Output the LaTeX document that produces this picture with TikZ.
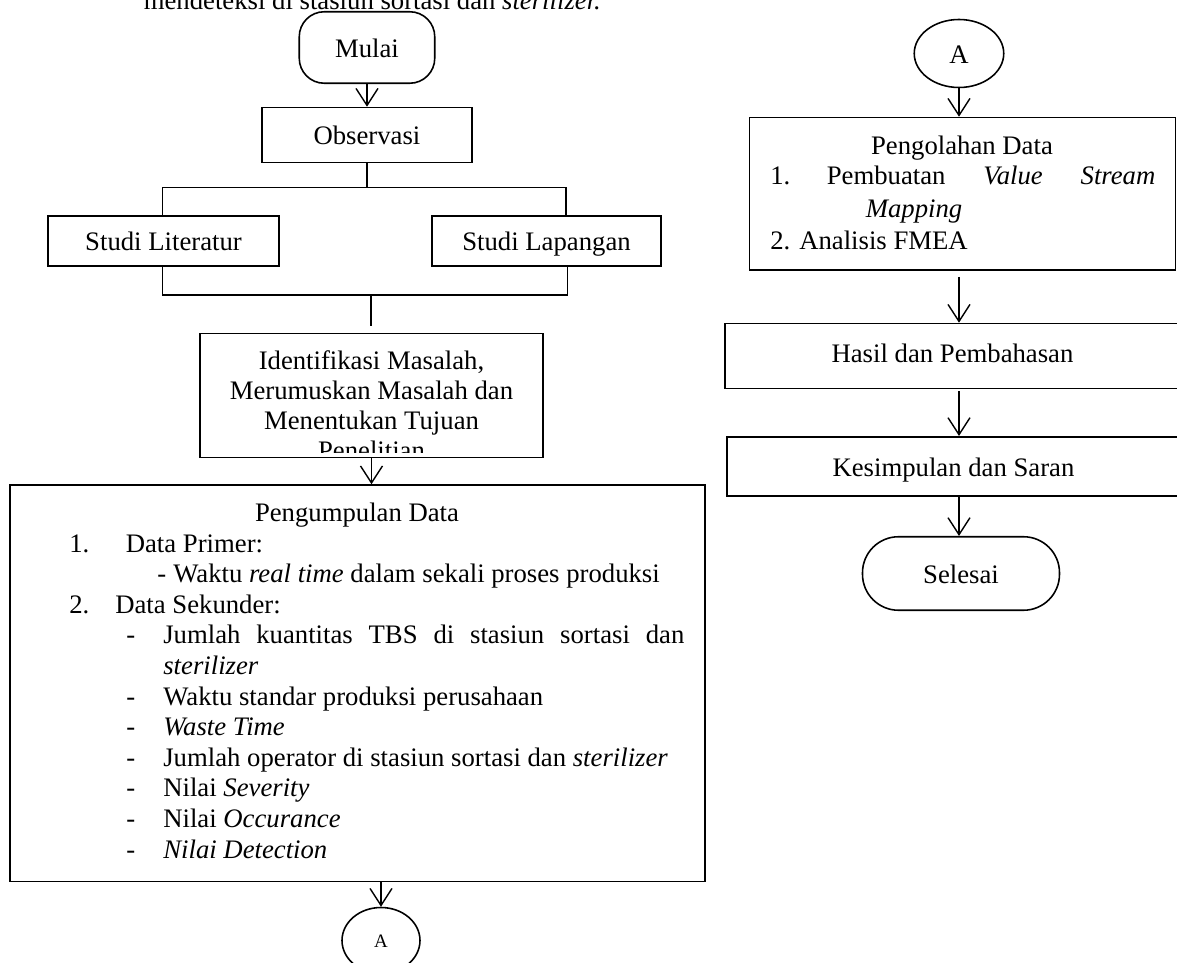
\documentclass[tikz,border=0pt]{standalone}
\usepackage{fontspec}
\setmainfont{Liberation Serif}
\usetikzlibrary{arrows.meta,positioning,shapes.geometric}

\begin{document}
\begin{tikzpicture}[>={Straight Barb[length=0.34cm,width=0.44cm]},
  font=\fontsize{15.2}{17.4}\selectfont,
  box/.style={draw,line width=0.9pt,inner sep=0pt,text height=13pt,text depth=2pt},
  term/.style={box,rounded corners=#1},
  txt/.style={inner sep=0pt},
  link/.style={line width=1.1pt},
  flow/.style={line width=0.8pt,->}]
\useasboundingbox (0,0) rectangle (23.54,19.24);
% ===================== line above (cut by the page) =====================
\node[txt,anchor=base west] (toptxt) at (2.87,19.05) {mendeteksi di stasiun sortasi dan \textit{sterilizer.}};
% ===================== LEFT column =====================
\node[term=0.5cm,minimum width=2.71cm,minimum height=1.43cm] (mulai) at (7.34,18.29) {Mulai};
\node[box,minimum width=4.19cm,minimum height=1.1cm] (obs) at (7.34,16.54) {Observasi};
\node[box,minimum width=4.63cm,minimum height=1cm] (lit) at (3.27,14.42) {Studi Literatur};
\node[box,minimum width=4.57cm,minimum height=1cm] (lap) at (10.93,14.42) {Studi Lapangan};
\node[box,minimum width=6.87cm,minimum height=2.48cm] (idm) at (7.43,11.33) {};
\node[box,minimum width=13.9cm,minimum height=7.93cm] (pgd) at (7.15,5.575) {};
\node[box,ellipse,minimum width=1.56cm,minimum height=1.32cm,font=\fontsize{10.8}{13}\selectfont,text height=9pt,text depth=1pt] (aleft) at (7.62,0.43) {A};
% bracket round the two studies
\coordinate (tl) at (3.25,15.49);
\coordinate (tr) at (11.32,15.49);
\coordinate (bl) at (3.25,13.34);
\coordinate (br) at (11.35,13.34);
\coordinate (bm) at (7.42,13.34);
\draw[flow] (mulai) -- (obs);
\draw[link] (obs.south) -- (obs.south |- tl);
\draw[link] (lit.north -| tl) |- (tr) -- (tr |- lap.north);
\draw[link] (lit.south -| bl) |- (br) -- (br |- lap.south);
\draw[link,shorten >=0.14cm] (bm) -- (idm.north -| bm);
\draw[flow] (idm.south) -- (idm.south |- pgd.north);
\draw[flow] (aleft.north |- pgd.south) -- (aleft.north);
% text of the problem box, last line hidden by the frame
\begin{scope}
  \clip (idm.south west) ++(0,0.12) rectangle (idm.north east);
  \foreach \ln [count=\i] in {Identifikasi Masalah{,}, Merumuskan Masalah dan, Menentukan Tujuan, Penelitian}
    \node[txt,anchor=base] (idl\i) at (7.43,{11.85-(\i-1)*0.6}) {\ln};
\end{scope}
% data collection list
\node[txt,anchor=base] (pgdtitle) at (7.14,8.81) {Pengumpulan Data};
\foreach \mx/\mk/\tx/\lbl [count=\i] in {
  1.38/1./2.51/Data Primer:,
  3.14/-/3.46/Waktu \textit{real time} dalam sekali proses produksi,
  1.38/2./2.30/Data Sekunder:,
  2.52/-/3.26/\makebox[10.42cm][s]{Jumlah kuantitas TBS di stasiun sortasi dan},
  2.52/{}/3.26/\textit{sterilizer},
  2.52/-/3.26/Waktu standar produksi perusahaan,
  2.52/-/3.26/\textit{Waste Time},
  2.52/-/3.26/Jumlah operator di stasiun sortasi dan \textit{sterilizer},
  2.52/-/3.26/Nilai \textit{Severity},
  2.52/-/3.26/Nilai \textit{Occurance},
  2.52/-/3.26/\textit{Nilai Detection}}
  {\node[txt,anchor=base west] (pm\i) at (\mx,{8.81-\i*0.612}) {\mk};
   \node[txt,anchor=base west] (pl\i) at (\tx,{8.81-\i*0.612}) {\lbl};}
% ===================== RIGHT column =====================
\node[box,ellipse,minimum width=1.79cm,minimum height=1.36cm] (aright) at (19.18,18.17) {A};
\node[box,minimum width=8.52cm,minimum height=3.05cm] (pgo) at (19.25,15.365) {};
\node[box,minimum width=9.1cm,minimum height=1.3cm,text depth=6pt] (hsl) at (19.05,12.12) {Hasil dan Pembahasan};
\node[box,minimum width=9.05cm,minimum height=1.19cm] (ksm) at (19.07,9.91) {Kesimpulan dan Saran};
\node[term=0.72cm,minimum width=3.94cm,minimum height=1.47cm] (sls) at (19.22,7.77) {Selesai};
\node[txt,anchor=base] (pgotitle) at (19.24,16.15) {Pengolahan Data};
\node[txt,anchor=base west] (pgo1n) at (15.4,15.55) {1.};
\node[txt,anchor=base west] (pgo1) at (16.53,15.55) {\makebox[6.57cm][s]{Pembuatan \textit{Value} \textit{Stream}}};
\node[txt,anchor=base west] (pgo1b) at (17.31,14.88) {\textit{Mapping}};
\node[txt,anchor=base west] (pgo2) at (15.4,14.25) {2. Analisis FMEA};
\draw[flow] (aright) -- (aright |- pgo.north);
\draw[flow,shorten <=0.12cm] (aright |- pgo.south) -- (aright |- hsl.north);
\draw[flow,shorten <=0.04cm] (aright |- hsl.south) -- (aright |- ksm.north);
\draw[flow] (aright |- ksm.south) -- (aright |- sls.north);
\end{tikzpicture}
\end{document}
